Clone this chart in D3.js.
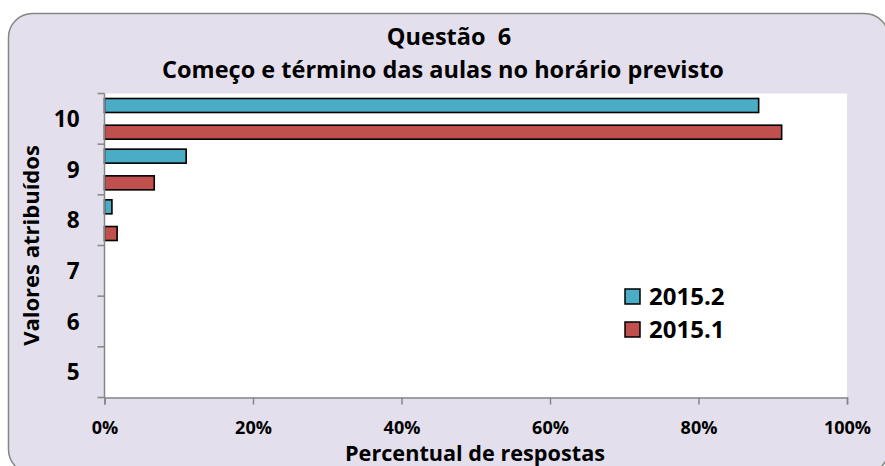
<!DOCTYPE html>
<html lang="pt">
<head>
<meta charset="UTF-8">
<title>Questão 6</title>
<script src="https://d3js.org/d3.v7.min.js"></script>
<style>
  body { margin: 0; background: #fff; }
  text { font-family: "Open Sans", sans-serif; font-weight: bold; fill: #000; }
</style>
</head>
<body>
<script>
// data
var categories = ["5", "6", "7", "8", "9", "10"];
var seriesNames = ["2015.2", "2015.1"];
var values2015_2 = [0, 0, 0, 1.0, 11.0, 88.1];
var values2015_1 = [0, 0, 0, 1.7, 6.7, 91.2];
var xTicks = [0, 20, 40, 60, 80, 100];
var colors = ["#4BACC6", "#C0504D"];

var W = 885, H = 466;
var plot = {left: 104.5, right: 847, top: 93.5, bottom: 397.5};

var svg = d3.select("body").append("svg")
    .attr("width", W)
    .attr("height", H);

// chart background
svg.append("rect")
    .attr("x", 8.5).attr("y", 13.5)
    .attr("width", 880).attr("height", 460)
    .attr("rx", 24).attr("ry", 24)
    .attr("fill", "#E4DFEC")
    .attr("stroke", "#868686")
    .attr("stroke-width", 1.5);

svg.append("rect")
    .attr("x", plot.left).attr("y", plot.top)
    .attr("width", plot.right - plot.left)
    .attr("height", plot.bottom - plot.top)
    .attr("fill", "#fff");

var x = d3.scaleLinear().domain([0, 100]).range([plot.left, plot.right]);
var y = d3.scaleBand().domain(categories.slice().reverse()).range([plot.top, plot.bottom]).padding(0);
var ySub = d3.scaleBand().domain(seriesNames).range([0, y.bandwidth()])
    .paddingInner(0.476).paddingOuter(0.187);

var rows = [];
categories.forEach(function (c, i) {
    rows.push({cat: c, s: seriesNames[0], v: values2015_2[i], col: colors[0]});
    rows.push({cat: c, s: seriesNames[1], v: values2015_1[i], col: colors[1]});
});

svg.append("g").selectAll("rect")
    .data(rows.filter(function (d) { return d.v > 0; }))
    .join("rect")
    .attr("x", x(0))
    .attr("y", function (d) { return y(d.cat) + ySub(d.s); })
    .attr("width", function (d) { return x(d.v) - x(0); })
    .attr("height", ySub.bandwidth())
    .attr("fill", function (d) { return d.col; })
    .attr("stroke", "#000")
    .attr("stroke-width", 1.6);

// y axis: ticks on category boundaries
var yAxis = svg.append("g").attr("transform", "translate(" + plot.left + ",0)");
yAxis.append("line")
    .attr("y1", plot.top).attr("y2", plot.bottom)
    .attr("stroke", "#868686").attr("stroke-width", 1.5);
var bounds = categories.map(function (c) { return y(c); }).concat([plot.bottom]);
yAxis.selectAll("line.tick").data(bounds).join("line")
    .attr("class", "tick")
    .attr("x1", -7).attr("x2", 0)
    .attr("y1", function (d) { return d; }).attr("y2", function (d) { return d; })
    .attr("stroke", "#868686").attr("stroke-width", 1.5);
yAxis.selectAll("text").data(categories).join("text")
    .attr("x", -25)
    .attr("y", function (d) { return y(d) + y.bandwidth() / 2; })
    .attr("dy", "0.36em")
    .attr("text-anchor", "end")
    .style("font-size", "22.5px")
    .text(function (d) { return d; });

// x axis
var xAxis = svg.append("g").attr("transform", "translate(0," + plot.bottom + ")")
    .call(d3.axisBottom(x).tickValues(xTicks).tickSize(7).tickPadding(19)
        .tickFormat(function (d) { return d + "%"; }));
xAxis.select(".domain").attr("stroke", "#868686").attr("stroke-width", 1.5);
xAxis.selectAll(".tick line").attr("stroke", "#868686").attr("stroke-width", 1.5);
xAxis.selectAll(".tick text")
    .attr("fill", "#000")
    .attr("dy", "0")
    .attr("y", 36)
    .style("font-family", "'Open Sans', sans-serif")
    .style("font-weight", "bold")
    .style("font-size", "18px");

// titles
svg.append("text").attr("x", 449).attr("y", 45)
    .attr("text-anchor", "middle").style("font-size", "23.5px")
    .style("white-space", "pre")
    .text("Questão  6");
svg.append("text").attr("x", 443).attr("y", 78)
    .attr("text-anchor", "middle").style("font-size", "23.5px")
    .text("Começo e término das aulas no horário previsto");
svg.append("text").attr("x", 475).attr("y", 460.5)
    .attr("text-anchor", "middle").style("font-size", "21px")
    .attr("textLength", 260).attr("lengthAdjust", "spacingAndGlyphs")
    .text("Percentual de respostas");
svg.append("text")
    .attr("transform", "translate(39," + ((plot.top + plot.bottom) / 2) + ") rotate(-90)")
    .attr("text-anchor", "middle").style("font-size", "22px")
    .text("Valores atribuídos");

// legend
var legend = svg.append("g").attr("transform", "translate(625,289)");
var item = legend.selectAll("g").data(seriesNames).join("g")
    .attr("transform", function (d, i) { return "translate(0," + (i * 33) + ")"; });
item.append("rect")
    .attr("width", 15).attr("height", 15)
    .attr("fill", function (d, i) { return colors[i]; })
    .attr("stroke", "#000").attr("stroke-width", 1.5);
item.append("text")
    .attr("x", 24).attr("y", 16)
    .style("font-size", "24px")
    .text(function (d) { return d; });
</script>
</body>
</html>
